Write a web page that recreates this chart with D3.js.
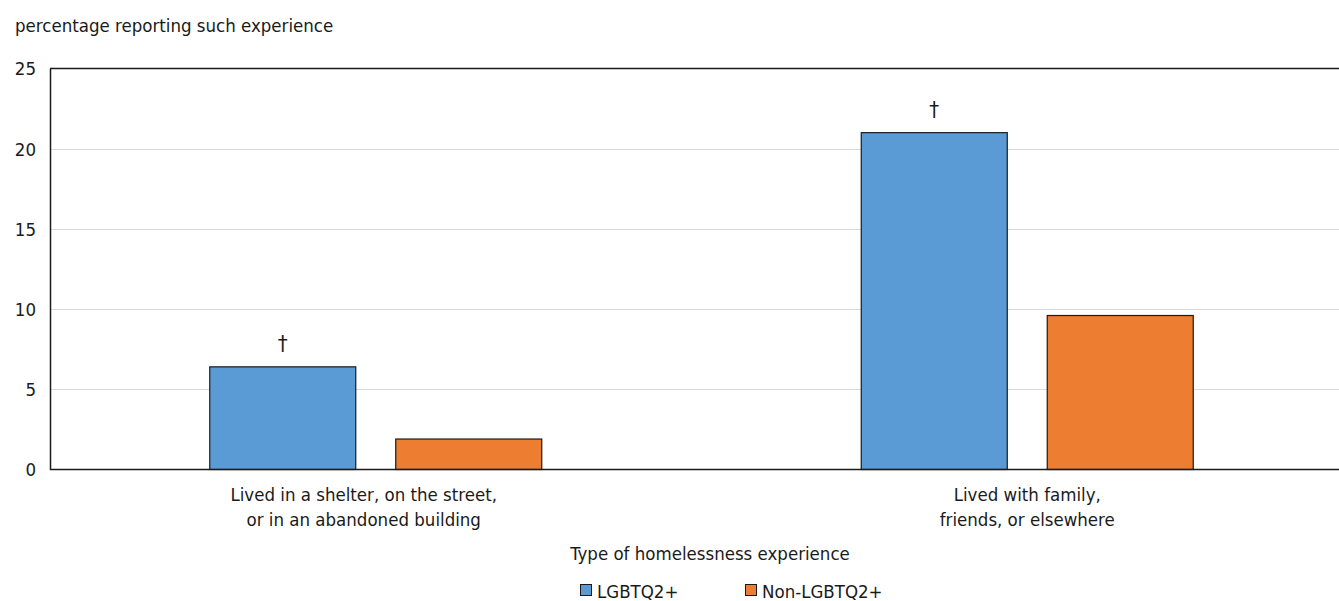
<!DOCTYPE html>
<html>
<head>
<meta charset="utf-8">
<script src="https://cdn.jsdelivr.net/npm/d3@7/dist/d3.min.js"></script>
<style>
  html, body { margin: 0; padding: 0; background: #fff; }
  svg text { font-family: "DejaVu Sans Condensed", "Liberation Sans Narrow", sans-serif; fill: #1a1a1a; }
</style>
</head>
<body>
<svg id="chart" width="1339" height="601"></svg>
<script>
const categories = [
  ["Lived in a shelter, on the street,", "or in an abandoned building"],
  ["Lived with family,", "friends, or elsewhere"]
];
const categoryKeys = ["shelter", "family"];
const seriesNames = ["LGBTQ2+", "Non-LGBTQ2+"];
const lgbtqValues = [6.4, 21.0];
const nonLgbtqValues = [1.9, 9.6];
const significance = ["†", "†"];
const yTicks = [0, 5, 10, 15, 20, 25];
const colors = ["#5B9BD5", "#ED7D31"];

const FS = 18.5;
const svg = d3.select("#chart");
const plotLeft = 50, plotRight = 1353, plotTop = 68.5, plotBottom = 469.5;

const y = d3.scaleLinear().domain([0, 25]).range([plotBottom, plotTop]);
const x0 = d3.scaleBand().domain(categoryKeys).range([plotLeft, plotRight]);
const groupW = 332;
const x1 = d3.scaleBand().domain(seriesNames).range([0, groupW]).paddingInner(0.215);

// gridlines
svg.append("g").selectAll("line").data(yTicks.filter(t => t > 0 && t < 25)).join("line")
  .attr("x1", plotLeft).attr("x2", 1339)
  .attr("y1", d => Math.round(y(d)) + 0.5).attr("y2", d => Math.round(y(d)) + 0.5)
  .attr("stroke", "#d9d9d9").attr("stroke-width", 1.2);

// top frame line
svg.append("line").attr("x1", plotLeft).attr("x2", 1339).attr("y1", y(25)).attr("y2", y(25))
  .attr("stroke", "#1a1a1a").attr("stroke-width", 1.5);

// y axis
const yAxis = d3.axisLeft(y).tickValues(yTicks).tickSize(0).tickPadding(14);
const gy = svg.append("g").attr("transform", `translate(${plotLeft},0)`).call(yAxis);
gy.select(".domain").attr("stroke", "#1a1a1a").attr("stroke-width", 1.5);
gy.selectAll("text").attr("font-size", FS).attr("dy", "0.35em");

// bars
const data = categoryKeys.map((k, i) => ({
  key: k,
  values: [
    { s: seriesNames[0], v: lgbtqValues[i], c: colors[0], sig: significance[i] },
    { s: seriesNames[1], v: nonLgbtqValues[i], c: colors[1], sig: "" }
  ]
}));

const groups = svg.append("g").selectAll("g").data(data).join("g")
  .attr("transform", d => `translate(${x0(d.key) + x0.bandwidth() / 2 - groupW / 2},0)`);

groups.selectAll("rect").data(d => d.values).join("rect")
  .attr("x", d => x1(d.s))
  .attr("width", x1.bandwidth())
  .attr("y", d => y(d.v))
  .attr("height", d => y(0) - y(d.v))
  .attr("fill", d => d.c)
  .attr("stroke", "#1a1a1a").attr("stroke-width", 1.2);

groups.selectAll("text.sig").data(d => d.values.filter(v => v.sig)).join("text")
  .attr("class", "sig")
  .attr("x", d => x1(d.s) + x1.bandwidth() / 2)
  .attr("y", d => y(d.v) - 16)
  .attr("text-anchor", "middle").attr("font-size", 22)
  .text(d => d.sig);

// x axis line
svg.append("line").attr("x1", plotLeft).attr("x2", 1339).attr("y1", y(0)).attr("y2", y(0))
  .attr("stroke", "#1a1a1a").attr("stroke-width", 1.5);

// category labels
const labelShift = [-12, 0];
const xAxis = d3.axisBottom(x0).tickSize(0).tickFormat(() => "");
const gx = svg.append("g").attr("transform", `translate(0,${y(0)})`).call(xAxis);
gx.select(".domain").remove();
gx.selectAll(".tick").each(function (d, i) {
  const t = d3.select(this).append("text").attr("text-anchor", "middle").attr("font-size", FS);
  categories[i].forEach((line, j) => {
    t.append("tspan").attr("x", labelShift[i]).attr("y", 31 + j * 25).text(line);
  });
});

// y title
svg.append("text").attr("x", 15).attr("y", 32).attr("font-size", FS)
  .text("percentage reporting such experience");

// x title
svg.append("text").attr("x", 710).attr("y", 560).attr("text-anchor", "middle").attr("font-size", FS)
  .text("Type of homelessness experience");

// legend
const legendX = [580, 745];
const lg = svg.append("g").selectAll("g").data(seriesNames).join("g")
  .attr("transform", (d, i) => `translate(${legendX[i]},584)`);
lg.append("rect").attr("x", 0.5).attr("y", 0.5).attr("width", 11).attr("height", 11)
  .attr("fill", (d, i) => colors[i]).attr("stroke", "#1a1a1a").attr("stroke-width", 1);
lg.append("text").attr("x", 17).attr("y", 13.5).attr("font-size", FS).text(d => d);
</script>
</body>
</html>
